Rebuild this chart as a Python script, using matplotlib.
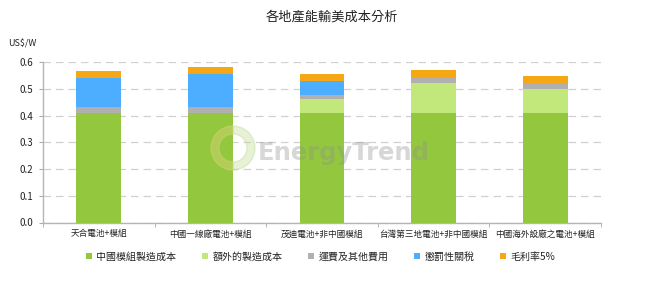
import matplotlib
matplotlib.use("Agg")
import matplotlib.pyplot as plt
import numpy as np
from matplotlib.patches import Wedge

plt.rcParams['font.family'] = ['Noto Sans CJK TC', 'DejaVu Sans']

categories = ['天合電池+模組', '中國一線廠電池+模組', '茂迪電池+非中國模組',
              '台灣第三地電池+非中國模組', '中國海外設廠之電池+模組']
series_names = ['中國模組製造成本', '額外的製造成本', '運費及其他費用', '懲罰性關稅', '毛利率5%']
china_cost = [0.41, 0.41, 0.41, 0.41, 0.41]
extra_cost = [0.00, 0.00, 0.05, 0.11, 0.09]
freight = [0.02, 0.02, 0.015, 0.02, 0.018]
tariff = [0.11, 0.125, 0.055, 0.0, 0.0]
margin = [0.025, 0.025, 0.025, 0.03, 0.028]
yticks = [0.0, 0.1, 0.2, 0.3, 0.4, 0.5, 0.6]

colors = ['#93C83E', '#C2E87B', '#B0B0B0', '#4DADFF', '#F5A714']
series = [china_cost, extra_cost, freight, tariff, margin]

fig = plt.figure(figsize=(6.64, 2.85), dpi=100)
ax = fig.add_axes([43/664, 1-222.5/285, (601-43)/664, (222.5-62)/285])

x = np.arange(len(categories))
bottom = np.zeros(len(categories))
handles = []
for vals, c, name in zip(series, colors, series_names):
    b = ax.bar(x, vals, width=0.4, bottom=bottom, color=c, label=name,
               edgecolor='none', zorder=3)
    handles.append(b)
    bottom += np.array(vals)

ax.set_xlim(-0.5, len(categories) - 0.5)
ax.set_ylim(0, 0.6)
ax.set_yticks(yticks)
ax.set_yticklabels([f'{v:.1f}' for v in yticks], fontsize=7, color='#222222')
ax.yaxis.grid(True, linestyle=(0, (6, 4)), color='#D0D0D0', linewidth=0.9, zorder=0)
ax.set_axisbelow(True)

ax.set_xticks(x)
ax.set_xticklabels(categories, fontsize=6.2, color='#222222')
ax.tick_params(axis='x', which='major', length=0, pad=5)
ax.set_xticks(np.arange(-0.5, len(categories)), minor=True)
ax.tick_params(axis='x', which='minor', length=3, color='#AAAAAA', direction='out')
ax.tick_params(axis='y', length=3, color='#AAAAAA', direction='out', pad=4)

for s in ['top', 'right']:
    ax.spines[s].set_visible(False)
for s in ['left', 'bottom']:
    ax.spines[s].set_color('#B5B5B5')
    ax.spines[s].set_linewidth(1.0)

# watermark
wax = fig.add_axes([0, 0, 1, 1], facecolor='none')
wax.set_xlim(0, 664)
wax.set_ylim(285, 0)
wax.axis('off')
wax.add_patch(Wedge((233, 148), 22, 90, 270, width=8, color='#EBD486', alpha=0.35))
wax.add_patch(Wedge((233, 148), 22, 270, 90, width=8, color='#B8D88A', alpha=0.35))
wax.text(258, 160, 'EnergyTrend', fontsize=17.5, color='#8E8E8E', alpha=0.35,
         family=['DejaVu Sans'], weight='bold', va='baseline', ha='left')

fig.text(0.5, 1-17/285, '各地產能輸美成本分析', ha='center', va='center', fontsize=9.5, color='#222222')
fig.text(8/664, 1-44/285, 'US$/W', ha='left', va='center', fontsize=6.5, color='#222222')

fig.legend(handles=handles, labels=series_names, loc='center', ncol=5,
           bbox_to_anchor=(0.483, 1-256.5/285), frameon=False, fontsize=7.2,
           handlelength=0.6, handleheight=0.6, handletextpad=0.4, columnspacing=2.6,
           labelcolor='#222222')

fig.savefig('out.png', dpi=100)
